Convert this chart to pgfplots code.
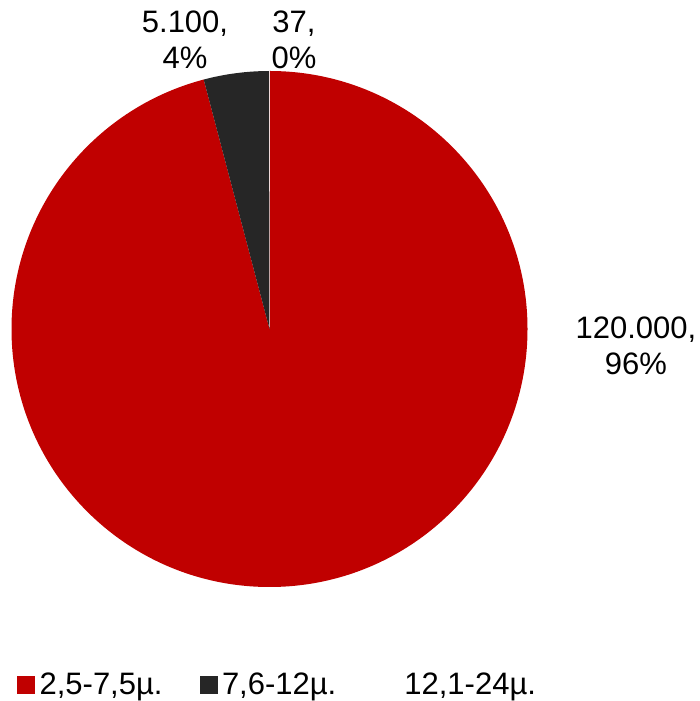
\documentclass[border=0pt]{standalone}
\usepackage{pgfplots}
\usepackage{pgfplotstable}
\pgfplotsset{compat=1.18}
\usepackage{fontspec}
\setmainfont{Liberation Sans}
\definecolor{cRed}{HTML}{C00000}
\definecolor{cDark}{HTML}{262626}
\definecolor{cLight}{HTML}{FFFFFF}

\pgfplotstableread{
label value
a 120000
b 5100
c 37
}\piedata

\pgfplotstablegetelem{0}{value}\of\piedata \edef\vA{\pgfplotsretval}
\pgfplotstablegetelem{1}{value}\of\piedata \edef\vB{\pgfplotsretval}
\pgfplotstablegetelem{2}{value}\of\piedata \edef\vC{\pgfplotsretval}
\edef\aA{\fpeval{90-360*\vA/(\vA+\vB+\vC)}}
\edef\aB{\fpeval{\aA-360*\vB/(\vA+\vB+\vC)}}
\edef\aC{\fpeval{\aB-360*\vC/(\vA+\vB+\vC)}}

\begin{document}
\begin{tikzpicture}
\begin{axis}[
  x=1pt, y=1pt,
  xmin=0, xmax=700, ymin=0, ymax=701,
  hide axis, clip=false,
  legend style={at={(axis cs:17,16.5)}, anchor=west, draw=none, fill=none,
    legend columns=-1, font=\fontsize{31}{36}\selectfont, inner sep=0pt,
    legend cell align=left,
    nodes={inner xsep=0pt, inner ysep=0pt},
    /tikz/every even column/.append style={column sep=33pt, nodes={text width=127pt, align=left}}},
]
\path (axis cs:0,0) rectangle (axis cs:700,701);
\addlegendimage{legend image code/.code={\fill[cRed] (0pt,-8.5pt) rectangle (17pt,8.5pt); \path (22pt,0pt);}}
\addlegendentry{\mbox{2,5-7,5µ.}}
\addlegendimage{legend image code/.code={\fill[cDark] (0pt,-8.5pt) rectangle (17pt,8.5pt); \path (22pt,0pt);}}
\addlegendentry{\mbox{7,6-12µ.}}
\addlegendimage{legend image code/.code={\fill[cLight] (0pt,-8.5pt) rectangle (17pt,8.5pt); \path (22pt,0pt);}}
\addlegendentry{\mbox{12,1-24µ.}}

\fill[cRed] (axis cs:269.5,372) -- (axis cs:269.5,630) arc[start angle=90, end angle=\aA, radius=258pt] -- cycle;
\fill[cDark] (axis cs:269.5,372) -- ++(\aA:258pt) arc[start angle=\aA, end angle=\aB, radius=258pt] -- cycle;
\fill[cLight] (axis cs:269.5,372) -- ++(\aB:258pt) arc[start angle=\aB, end angle=\aC, radius=258pt] -- cycle;

\node[align=center, font=\fontsize{31}{36}\selectfont, inner sep=0pt] at (axis cs:185,661) {5.100,\\4\%};
\node[align=center, font=\fontsize{31}{36}\selectfont, inner sep=0pt] at (axis cs:294,661) {37,\\0\%};
\node[align=center, font=\fontsize{31}{36}\selectfont, inner sep=0pt] at (axis cs:636,355) {120.000,\\96\%};
\end{axis}
\end{tikzpicture}
\end{document}
